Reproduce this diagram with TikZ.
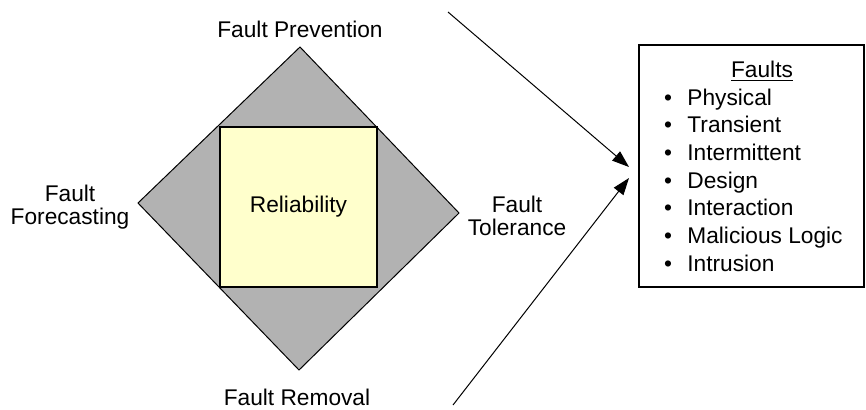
\documentclass[tikz,border=0pt]{standalone}
\usepackage{fontspec}
\setmainfont{Liberation Sans}
\usetikzlibrary{positioning}
\usetikzlibrary{arrows.meta}

\definecolor{diamondgray}{RGB}{178,178,178}
\definecolor{relyellow}{RGB}{255,255,204}

\begin{document}
\begin{tikzpicture}[x=0.5pt, y=-0.5pt, font=\fontsize{11.35}{11.2}\selectfont,
  faultlbl/.style={align=center, inner sep=0pt},
  item/.style={anchor=base west, inner sep=0pt},
  arr/.style={-{Triangle[length=8.5pt,width=6pt]}, line width=0.5pt}]

\useasboundingbox (0,0) rectangle (866,409);

% Diamond with reliability square
\draw[fill=diamondgray, line width=0.5pt] (300,47) -- (459,213) -- (299,370) -- (138,203) -- cycle;
\node[draw, line width=1pt, fill=relyellow, minimum width=78.5pt, minimum height=80pt, inner sep=0pt] (rel) at (298.5,207) {Reliability};

% Corner labels
\node[faultlbl, anchor=base] (prev) at (300,37) {Fault Prevention};
\node[faultlbl, anchor=base] (rem) at (297,405) {Fault Removal};
\node[faultlbl, anchor=base] (fore) at (70,224) {Fault\\Forecasting};
\node[faultlbl, anchor=base] (tol) at (517,235) {Fault\\Tolerance};

% Faults box
\node[draw, line width=1pt, minimum width=112.5pt, minimum height=121pt, inner sep=0pt] (faults) at (751.5,166) {};
\node[anchor=base, inner sep=0pt] (title) at (762,77) {\underline{Faults}};
\foreach \t [count=\i] in {Physical, Transient, Intermittent, Design, Interaction, Malicious Logic, Intrusion} {
    \node[item] (f\i) at (687,{77.3+27.7*\i}) {\t};
    \node[anchor=base, inner sep=0pt] (b\i) at (668,{77.3+27.7*\i}) {\textbullet};
}

% Arrows
\coordinate (topstart) at (448,12);
\coordinate (botstart) at (453,405);
\coordinate (toptip) at (629,167);
\coordinate (bottip) at (629,178);
\draw[arr] (topstart) -- (toptip);
\draw[arr] (botstart) -- (bottip);

\end{tikzpicture}
\end{document}
